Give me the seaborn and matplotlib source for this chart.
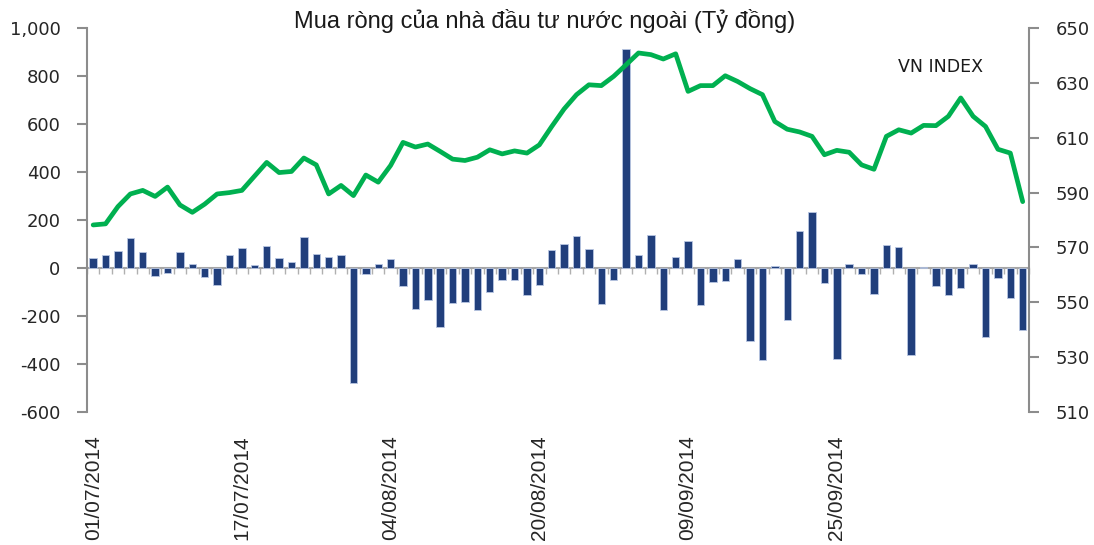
import pandas as pd
import numpy as np
import matplotlib
matplotlib.use("Agg")
import matplotlib.pyplot as plt
import seaborn as sns
from matplotlib.ticker import StrMethodFormatter, MultipleLocator

# ngày giao dịch 01/07/2014 - 16/10/2014 (nghỉ lễ 01-02/09)
holidays = ["2014-09-01", "2014-09-02"]
dates = pd.bdate_range("2014-07-01", "2014-10-16", freq="C", holidays=holidays)
date_labels = dates.strftime("%d/%m/%Y").tolist()

# mua ròng của nhà đầu tư nước ngoài (tỷ đồng)
net_buy = [
    43, 56, 69, 124, 65, -33, -19, 65, 15, -37,
    -71, 53, 82, 12, 90, 40, 26, 128, 57, 47,
    56, -478, -24, 18, 38, -74, -171, -133, -244, -146,
    -142, -175, -100, -49, -50, -113, -71, 76, 101, 135,
    81, -150, -49, 911, 56, 139, -175, 47, 111, -154,
    -58, -54, 36, -304, -383, 8, -217, 153, 235, -62,
    -379, 18, -25, -108, 97, 89, -361, 3, -75, -112,
    -83, 18, -289, -40, -125, -258,
]

# VN INDEX
vn_index = [
    578.2, 578.6, 584.9, 589.5, 590.8, 588.6, 592.0, 585.5, 582.8, 585.8,
    589.5, 590.0, 590.8, 595.9, 601.0, 597.3, 597.7, 602.6, 600.1, 589.5,
    592.6, 588.9, 596.4, 593.8, 599.9, 608.3, 606.6, 607.7, 605.0, 602.2,
    601.7, 602.9, 605.6, 604.1, 605.2, 604.4, 607.4, 614.1, 620.5, 625.7,
    629.3, 629.0, 632.4, 636.6, 640.9, 640.3, 638.7, 640.6, 626.9, 629.0,
    629.0, 632.6, 630.5, 627.9, 625.7, 615.9, 613.1, 612.1, 610.5, 603.8,
    605.4, 604.7, 600.1, 598.5, 610.5, 612.9, 611.7, 614.5, 614.4, 617.8,
    624.5, 617.8, 614.1, 605.8, 604.4, 586.7,
]

n = len(net_buy)
df = pd.DataFrame({
    "date": date_labels[:n],
    "pos": np.arange(n),
    "net": net_buy,
    "vni": vn_index,
})

sns.set_style("white")
plt.rcParams["font.family"] = ["Liberation Sans", "DejaVu Sans"]
plt.rcParams["axes.unicode_minus"] = False

grey = "#8c8c8c"
fig = plt.figure(figsize=(10.94, 5.45), dpi=100)
ax = fig.add_axes([0.0795, 0.244, 0.861, 0.7046])

sns.barplot(data=df, x="date", y="net", color="#213f7c", saturation=1,
            width=0.6, edgecolor="#b8c6e2", linewidth=0.6, ax=ax)
ax.set_xlim(-0.5, n - 0.5)
ax.set_ylim(-600, 1000)
ax.yaxis.set_major_locator(MultipleLocator(200))
ax.yaxis.set_major_formatter(StrMethodFormatter("{x:,.0f}"))
ax.set_xlabel("")
ax.set_ylabel("")

# nhãn ngày mỗi 12 phiên (đến 25/09)
shown = df["pos"][::12][:6]
ax.set_xticks(shown)
ax.set_xticklabels(df["date"][shown], rotation=90, fontsize=15)
ax.tick_params(axis="x", length=0, pad=17)
ax.tick_params(axis="y", direction="out", length=7, width=1.5, color=grey,
               pad=12, labelsize=13)
for lab in ax.get_yticklabels():
    lab.set_fontfamily("DejaVu Sans")

for s in ["top", "bottom", "right"]:
    ax.spines[s].set_visible(False)
ax.spines["left"].set_color(grey)
ax.spines["left"].set_linewidth(1.5)

# trục phân loại tại 0
zero_ax = ax.secondary_xaxis(0, transform=ax.transData)
zero_ax.set_xticks(np.arange(n + 1) - 0.5)
zero_ax.set_xticklabels([])
zero_ax.tick_params(direction="out", length=4, width=1, color="#b0b0b0")
zero_ax.spines["bottom"].set_color("#a6a6a6")
zero_ax.spines["bottom"].set_linewidth(1.5)

# VN INDEX trên trục phải
ax2 = ax.twinx()
sns.lineplot(data=df, x="pos", y="vni", color="#00b050", linewidth=3.4,
             ax=ax2, solid_joinstyle="round", solid_capstyle="round")
ax2.set_xlim(-0.5, n - 0.5)
ax2.set_ylim(510, 650)
ax2.set_yticks(np.arange(510, 651, 20))
ax2.set_ylabel("")
ax2.tick_params(axis="y", direction="out", length=7, width=1.5, color=grey,
                pad=12, labelsize=13)
for lab in ax2.get_yticklabels():
    lab.set_fontfamily("DejaVu Sans")
for s in ["top", "bottom", "left"]:
    ax2.spines[s].set_visible(False)
ax2.spines["right"].set_color(grey)
ax2.spines["right"].set_linewidth(1.5)

fig.text(0.498, 1 - 28 / 545, "Mua ròng của nhà đầu tư nước ngoài (Tỷ đồng)",
         ha="center", va="baseline", fontsize=17, color="#1a1a1a")
fig.text(898 / 1094, 1 - 72 / 545, "VN INDEX", ha="left", va="baseline",
         fontsize=12.5, color="#1a1a1a", family="DejaVu Sans")

fig.savefig("out.png", dpi=100)
